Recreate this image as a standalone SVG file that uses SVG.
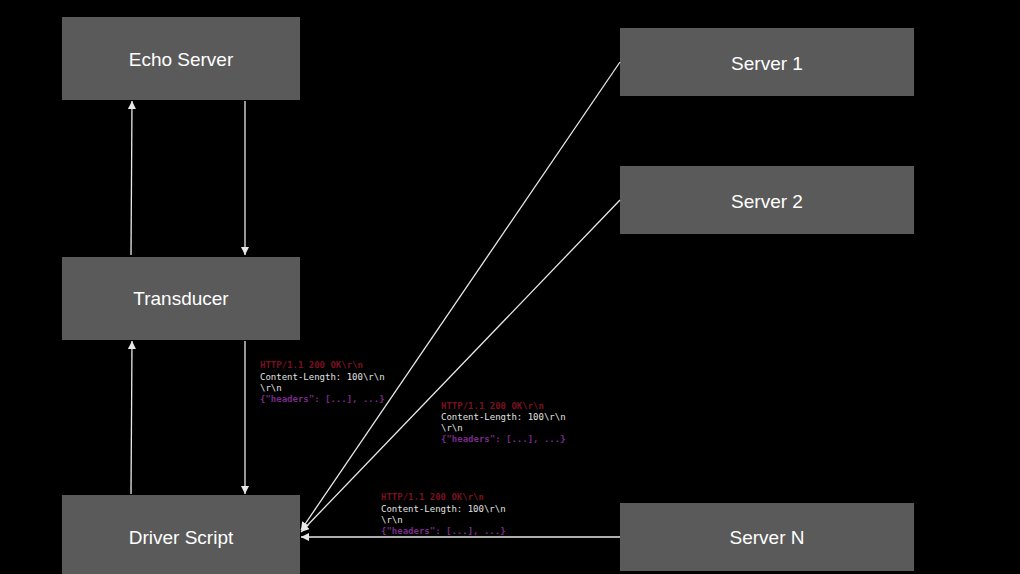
<svg xmlns="http://www.w3.org/2000/svg" width="1020" height="574" viewBox="0 0 1020 574">
<defs>
<style>
.box{fill:#5a5a5a}
.lbl{font-family:"Liberation Sans",Arial,sans-serif;font-size:19px;fill:#fff;text-anchor:middle;dominant-baseline:central}
.ln{stroke:#e8e8e8;stroke-width:1.3;fill:none;marker-end:url(#ah)}
.m{font-family:"DejaVu Sans Mono",monospace;font-size:9px}
.r{fill:#7a1020;font-weight:bold}
.g{fill:#e0e0e0}
.p{fill:#7a2a8a;font-weight:bold}
</style>
<marker id="ah" viewBox="0 0 10 10" refX="10" refY="5" markerWidth="8" markerHeight="8" orient="auto" markerUnits="userSpaceOnUse"><path d="M0,0L10,5L0,10z" fill="#e8e8e8"/></marker>
</defs>
<rect width="1020" height="574" fill="#000"/>
<g id="echo"><rect class="box" x="62" y="17" width="238" height="83"/><text class="lbl" x="181" y="59">Echo Server</text></g>
<g id="transducer"><rect class="box" x="62" y="257" width="238" height="83"/><text class="lbl" x="181" y="298">Transducer</text></g>
<g id="driver"><rect class="box" x="62" y="495" width="238" height="83"/><text class="lbl" x="181" y="537">Driver Script</text></g>
<g id="server1"><rect class="box" x="620" y="28" width="294" height="68"/><text class="lbl" x="767" y="63">Server 1</text></g>
<g id="server2"><rect class="box" x="620" y="166" width="294" height="68"/><text class="lbl" x="767" y="201">Server 2</text></g>
<g id="serverN"><rect class="box" x="620" y="503" width="294" height="68"/><text class="lbl" x="767" y="537">Server N</text></g>
<g id="connectors">
<line class="ln" x1="131" y1="255" x2="132" y2="101"/>
<line class="ln" x1="245" y1="101" x2="245" y2="255"/>
<line class="ln" x1="131" y1="494" x2="132" y2="341"/>
<line class="ln" x1="245" y1="341" x2="245" y2="494"/>
<line class="ln" x1="620" y1="62" x2="301" y2="530"/>
<line class="ln" x1="620" y1="200" x2="301" y2="532"/>
<line class="ln" x1="620" y1="537" x2="301" y2="537"/>
</g>
<g id="msg1" class="m">
<text class="r" x="260" y="368">HTTP/1.1 200 OK\r\n</text>
<text class="g" x="260" y="380">Content-Length: 100\r\n</text>
<text class="g" x="260" y="391">\r\n</text>
<text class="p" x="260" y="402">{"headers": [...], ...}</text>
</g>
<g id="msg2" class="m">
<text class="r" x="441" y="409">HTTP/1.1 200 OK\r\n</text>
<text class="g" x="441" y="420">Content-Length: 100\r\n</text>
<text class="g" x="441" y="431">\r\n</text>
<text class="p" x="441" y="442">{"headers": [...], ...}</text>
</g>
<g id="msg3" class="m">
<text class="r" x="381" y="500">HTTP/1.1 200 OK\r\n</text>
<text class="g" x="381" y="512">Content-Length: 100\r\n</text>
<text class="g" x="381" y="523">\r\n</text>
<text class="p" x="381" y="534">{"headers": [...], ...}</text>
</g>
</svg>
